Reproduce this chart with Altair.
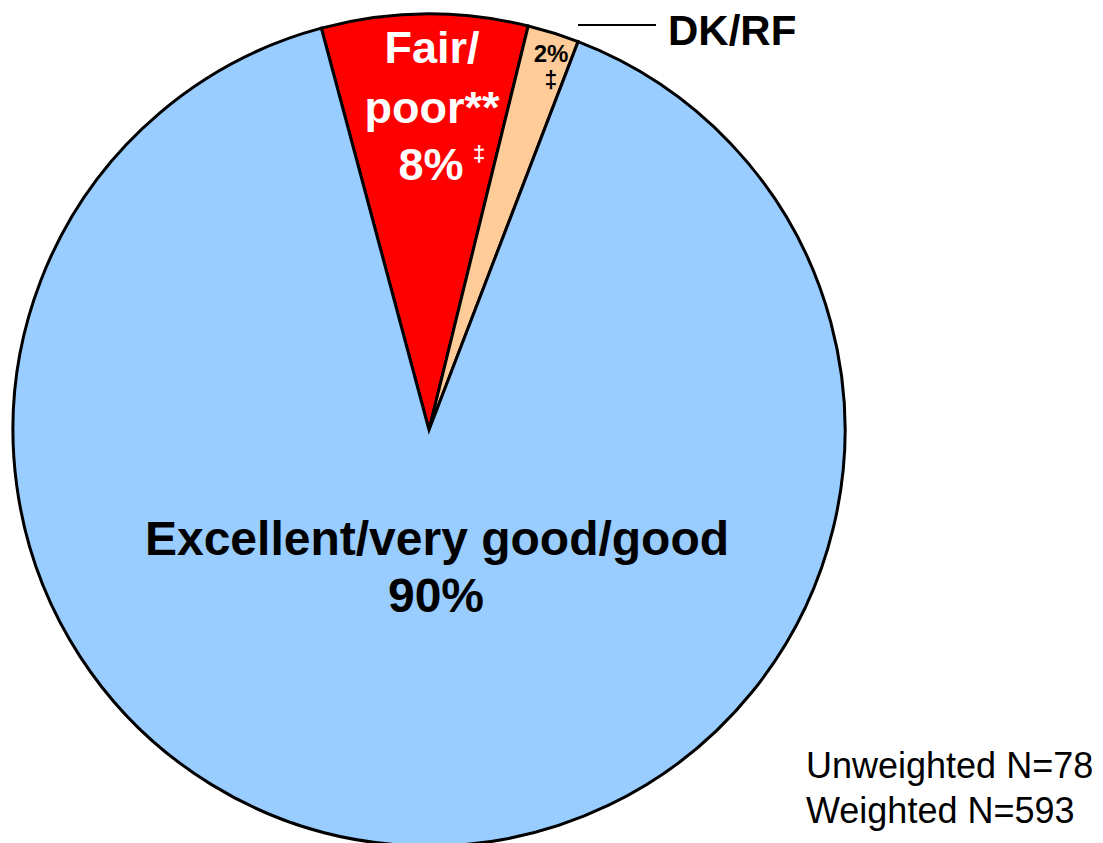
import math
import altair as alt
import pandas as pd

categories = ["Fair/poor", "DK/RF", "Excellent/very good/good"]
values = [8, 2, 90]
colors = ["#FF0000", "#FFCC99", "#99CCFF"]
order = [0, 1, 2]

FONT = "Liberation Sans"
CX, CY, R = 421, 422, 416
start = -15.0 * math.pi / 180

df = pd.DataFrame({"category": categories, "value": values, "order": order})

pie = alt.Chart(df).mark_arc(stroke="black", strokeWidth=3, outerRadius=R).encode(
    theta=alt.Theta("value:Q", stack=True,
                    scale=alt.Scale(domain=[0, 100], range=[start, start + 2 * math.pi])),
    color=alt.Color("category:N", scale=alt.Scale(domain=categories, range=colors), legend=None),
    order=alt.Order("order:Q"),
    x=alt.value(CX),
    y=alt.value(CY),
)


def txt(s, x, y, size, color="black", weight="bold", align="center"):
    return alt.Chart(pd.DataFrame({"t": [s]})).mark_text(
        font=FONT, fontSize=size, fontWeight=weight, color=color, align=align, baseline="alphabetic"
    ).encode(text="t:N", x=alt.value(x), y=alt.value(y))


labels = [
    txt("Fair/", 424, 55, 45, "white"),
    txt("poor**", 424, 115, 45, "white"),
    txt("8%", 423, 172, 45, "white"),
    txt("‡", 471, 153, 22, "white"),
    txt("2%", 543, 54, 24),
    txt("‡", 543, 80, 23),
    txt("DK/RF", 660, 37, 42, align="left"),
    txt("Excellent/very good/good", 429, 547, 48),
    txt("90%", 428, 604, 48),
    txt("Unweighted N=78", 798, 770, 36, weight="normal", align="left"),
    txt("Weighted N=593", 798, 815, 36, weight="normal", align="left"),
]

leader = alt.Chart(pd.DataFrame({"a": [0]})).mark_rule(color="black", strokeWidth=2).encode(
    x=alt.value(570), x2=alt.value(648), y=alt.value(17)
)

chart = alt.layer(pie, leader, *labels).properties(
    width=1087, height=835, autosize=alt.AutoSizeParams(type="none"), padding=0
).configure_view(stroke=None)

chart.save("out.html", embed_options={"renderer": "svg", "actions": False})
